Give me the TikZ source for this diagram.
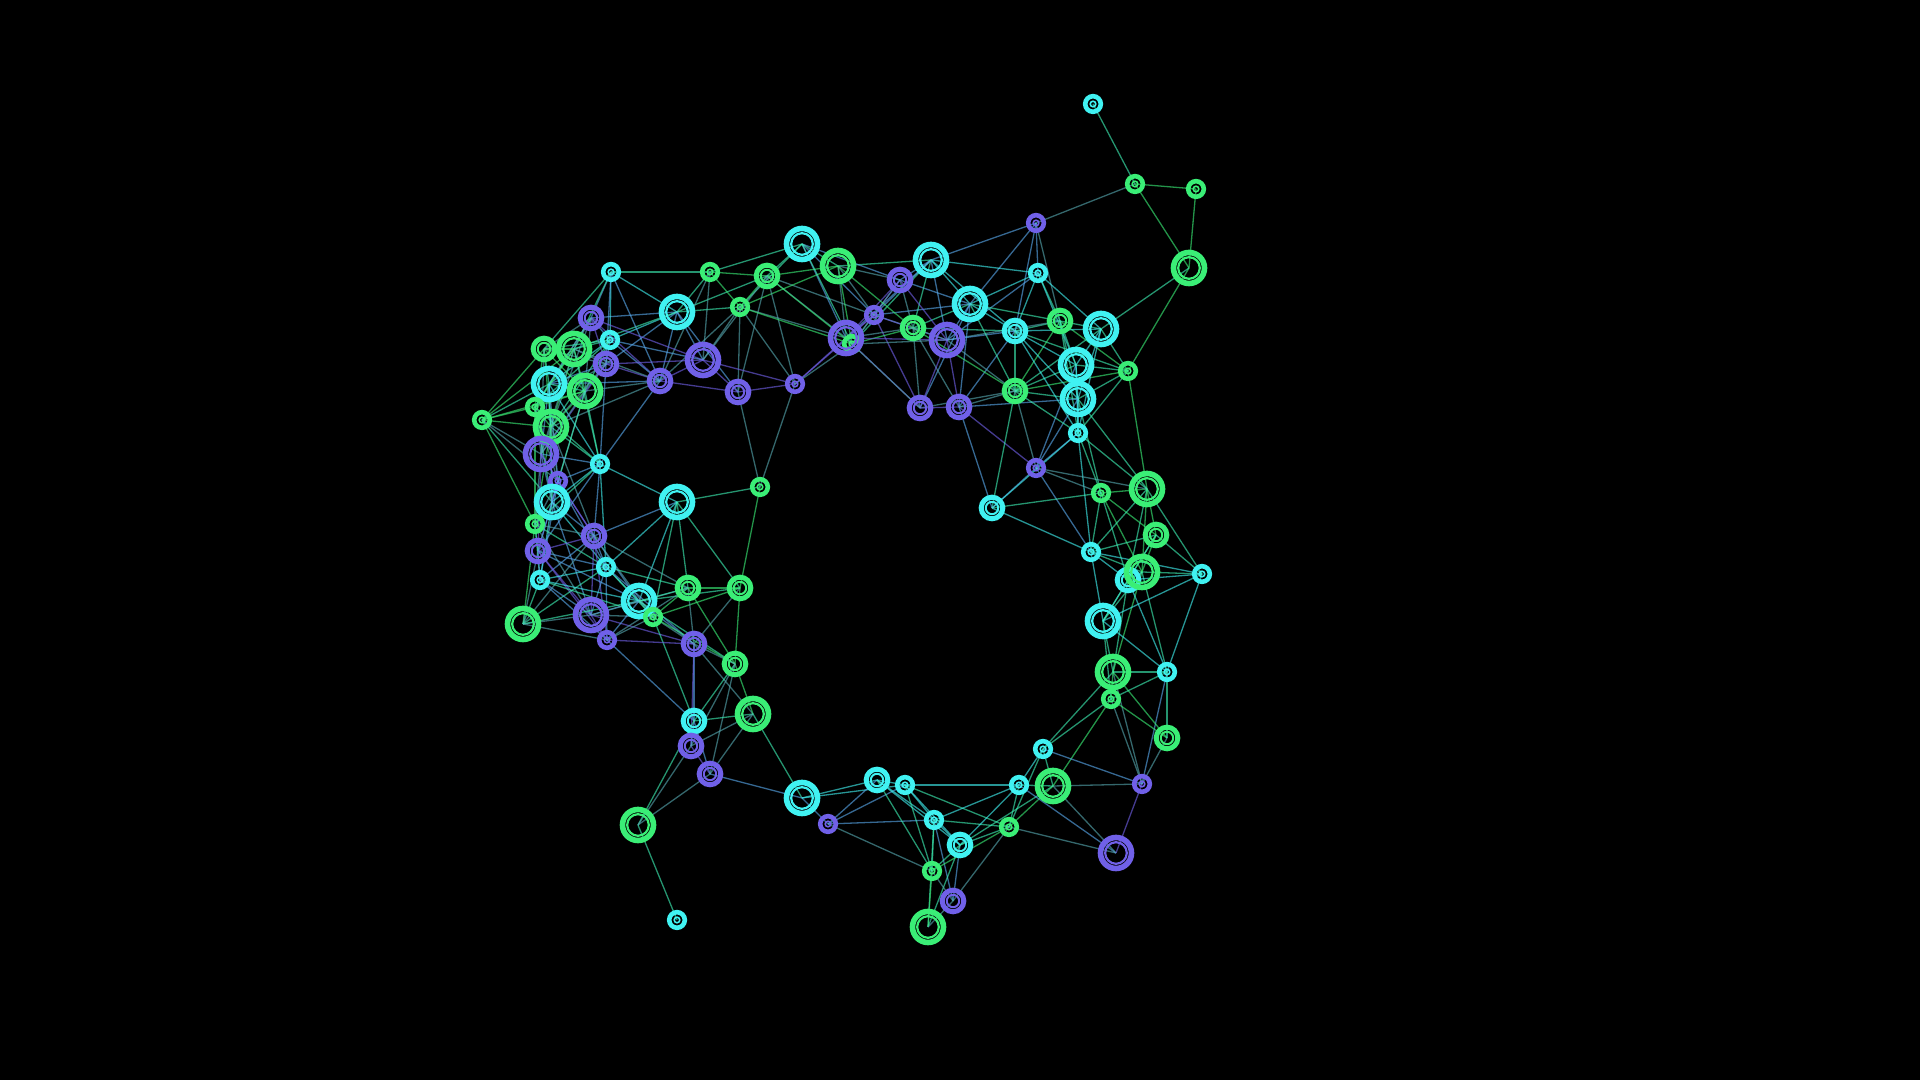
\documentclass[tikz,border=0pt]{standalone}
\usepackage{tikz}
\definecolor{cy}{RGB}{64,242,242}
\definecolor{gr}{RGB}{58,238,118}
\definecolor{pu}{RGB}{112,96,232}
\tikzset{
  link/.style={line width=0.013cm, opacity=0.62},
  dot s/.style={radius=0.078cm, line width=0.046cm},
  pip s/.style={radius=0.028cm, line width=0.016cm},
  dot m/.style={radius=0.108cm, line width=0.05cm},
  pip m/.style={radius=0.062cm, line width=0.02cm},
  dot l/.style={radius=0.155cm, line width=0.056cm},
  pip l/.style={radius=0.108cm, line width=0.022cm},
}
% index/x/y/colour/size, in pixels of the 1920x1080 frame
\def\nodelist{1/1093/104/cy/s, 2/1135/184/gr/s, 3/1196/189/gr/s, 4/1189/268/gr/l,
  5/1036/223/pu/s, 6/1038/273/cy/s, 7/1128/371/gr/s, 8/1101/329/cy/l,
  9/1060/321/gr/m, 10/1076/365/cy/l, 11/1078/399/cy/l, 12/1015/331/cy/m,
  13/970/304/cy/l, 14/931/260/cy/l, 15/900/280/pu/m, 16/874/315/pu/s,
  17/913/328/gr/m, 18/947/340/pu/l, 100/852/344/gr/s, 19/846/338/pu/l,
  20/838/266/gr/l, 21/802/244/cy/l, 22/767/276/gr/m, 23/710/272/gr/s,
  24/740/307/gr/s, 25/677/312/cy/l, 26/611/272/cy/s, 27/591/318/pu/m,
  28/610/340/cy/s, 29/606/364/pu/m, 30/703/360/pu/l, 31/660/381/pu/m,
  32/738/392/pu/m, 33/795/384/pu/s, 34/544/349/gr/m, 35/574/349/gr/l,
  36/549/384/cy/l, 37/585/391/gr/l, 38/535/407/gr/s, 39/551/427/gr/l,
  40/482/420/gr/s, 41/541/454/pu/l, 42/558/481/pu/s, 43/552/502/cy/l,
  44/600/464/cy/s, 45/677/502/cy/l, 46/760/487/gr/s, 47/535/524/gr/s,
  48/594/536/pu/m, 49/538/551/pu/m, 50/606/567/cy/s, 51/540/580/cy/s,
  52/523/624/gr/l, 53/591/615/pu/l, 54/639/601/cy/l, 55/653/617/gr/s,
  56/688/588/gr/m, 57/740/588/gr/m, 58/607/640/pu/s, 59/694/644/pu/m,
  60/735/664/gr/m, 61/694/721/cy/m, 62/691/746/pu/m, 63/753/714/gr/l,
  64/710/774/pu/m, 65/802/798/cy/l, 66/828/824/pu/s, 67/638/825/gr/l,
  68/677/920/cy/s, 69/877/780/cy/m, 70/905/785/cy/s, 71/934/820/cy/s,
  72/960/845/cy/m, 73/932/871/gr/s, 74/953/901/pu/m, 75/928/927/gr/l,
  76/1009/827/gr/s, 77/1019/785/cy/s, 78/1053/786/gr/l, 79/1043/749/cy/s,
  80/1142/784/pu/s, 81/1167/738/gr/m, 82/1116/853/pu/l, 83/1111/699/gr/s,
  84/1113/672/gr/l, 85/1167/672/cy/s, 86/1103/621/cy/l, 87/1128/580/cy/m,
  88/1142/572/gr/l, 89/1202/574/cy/s, 90/1156/535/gr/m, 91/1091/552/cy/s,
  92/1147/489/gr/l, 93/1101/493/gr/s, 94/1036/468/pu/s, 95/992/508/cy/m,
  96/1078/433/cy/s, 97/1015/391/gr/m, 98/920/408/pu/m, 99/959/407/pu/m}

\begin{document}
\begin{tikzpicture}[x=0.01cm,y=-0.01cm]
  \fill[black] (0,0) rectangle (1920,1080);
  \foreach \i/\x/\y/\c/\s in \nodelist {
    \coordinate (n\i) at (\x,\y);
  }
  % links between near nodes
  \foreach \i/\xa/\ya/\ca/\sa in \nodelist {
    \foreach \j/\xb/\yb/\cb/\sb in \nodelist {
      \ifnum\j>\i
        \pgfmathtruncatemacro\near{veclen(\xa-\xb,\ya-\yb)<120}
        \ifnum\near=1
          \draw[link, draw=\ca!50!\cb] (n\i) -- (n\j);
        \fi
      \fi
    }
  }
  % the rings
  \foreach \i/\x/\y/\c/\s in \nodelist {
    \draw[\c, dot \s] (n\i) circle;
    \draw[\c, pip \s] (n\i) circle;
  }
\end{tikzpicture}
\end{document}
